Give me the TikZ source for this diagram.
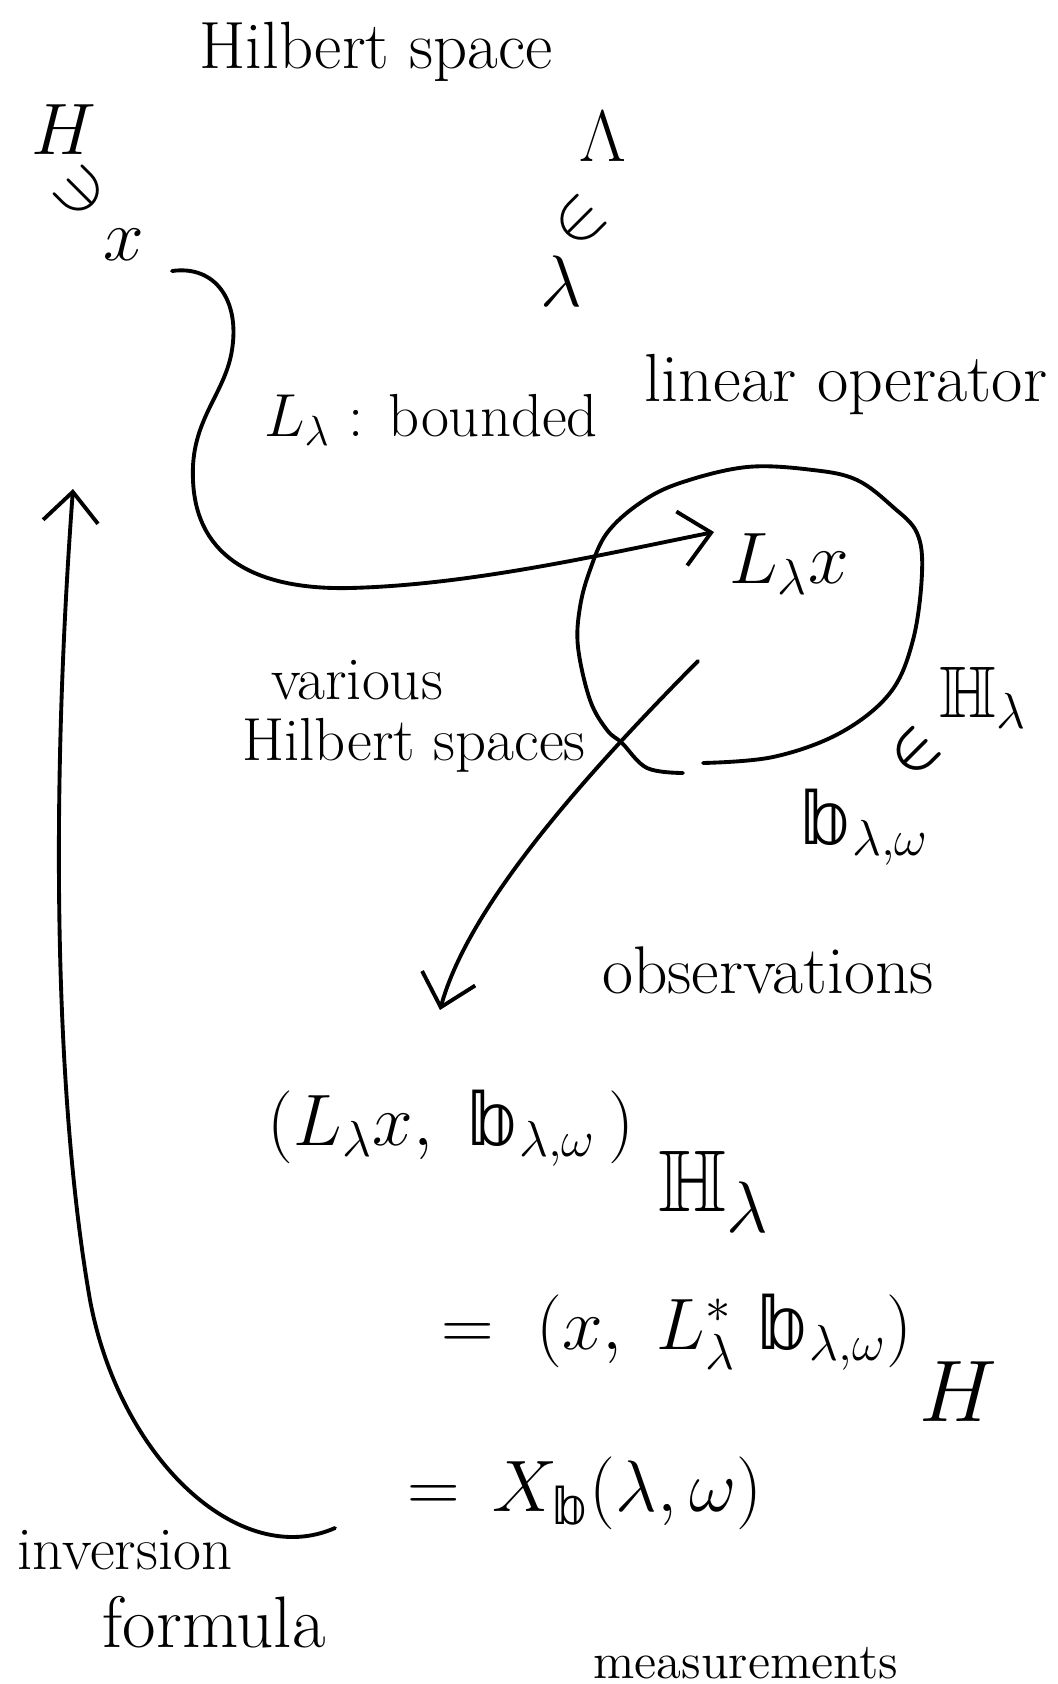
\documentclass[tikz,border=0pt]{standalone}
\usepackage{amsmath}
\usepackage{amssymb}
\usepackage{fontspec}
\newfontfamily\dejavu{DejaVu Sans}
\newcommand{\bbb}{\text{\dejavu 𝕓}}
\usetikzlibrary{arrows.meta}

\begin{document}
\begin{tikzpicture}[x=0.01cm, y=-0.01cm,
	hand/.style={line width=1.1pt, line cap=round, line join=round},
	handarrow/.style={hand, -{Straight Barb[length=3mm, width=5.5mm, line width=1.1pt]}},
	words/.style={font=\LARGE, inner sep=1pt},
	sym/.style={font=\huge, inner sep=1pt},
	elem/.style={font=\huge, inner sep=0pt},
	eqn/.style={font=\huge, inner sep=1pt}]
	\useasboundingbox (0,0) rectangle (1058,1684);
	\node[words, scale=1.1] (title) at (376,52){Hilbert space};
	\node[sym] (H) at (64,130){$H$};
	\node[elem, rotate=135] (Hni) at (80,192){$\in$};
	\node[sym] (x) at (124,245){$x$};
	\node[sym] (Lam) at (603,137){$\Lambda$};
	\node[elem, rotate=45] (lamin) at (580,221){$\in$};
	\node[sym] (lam) at (561,281){$\lambda$};
	\node[words] (bounded) at (431,420){$L_\lambda$ : bounded};
	\node[words, scale=1.12] (linop) at (846,385){linear operator};
	\node[sym] (Lx) at (789,564){$L_\lambda x$};
	\node[sym] (Hlam) at (983,698){$\mathbb{H}_\lambda$};
	\node[elem, font=\LARGE\boldmath, rotate=45] (bin) at (915,752){$\in$};
	\node[sym] (b) at (865,827){$\bbb_{\lambda,\omega}$};
	\node[words] (various) at (357,680){various};
	\node[words] (spaces) at (414,745){Hilbert spaces};
	\node[words, scale=1.11] (obs) at (768,970){observations};
	\node[eqn] (eqa) at (451,1128){$(L_\lambda x,\ \bbb_{\lambda,\omega}\,)$};
	\node[font=\Huge, inner sep=1pt] (eqaH) at (714,1192){$\mathbb{H}_\lambda$};
	\node[eqn] (eqb) at (677,1332){$=\ (x,\ L_\lambda^{*}\ \bbb_{\lambda,\omega})$};
	\node[font=\Huge, inner sep=1pt] (eqbH) at (958,1392){$H$};
	\node[eqn] (eqc) at (585,1493){$=\,X_{\bbb}(\lambda,\omega)$};
	\node[words] (inv) at (125,1550){inversion};
	\node[words, font=\huge] (form) at (214,1622){formula};
	\node[font=\Large, inner sep=1pt] (meas) at (746,1663){measurements};
	\coordinate (xout) at (172,271);
	\coordinate (Lxin) at (714,532);
	\coordinate (Lxout) at (698,661);
	\coordinate (eqin) at (440,1010);
	\coordinate (invout) at (335,1528);
	\coordinate (invin) at (73,489);
	\draw[handarrow] (xout) .. controls (215,265) and (240,300) .. (232,350) .. controls (225,395) and (190,420) .. (193,480) .. controls (196,560) and (260,590) .. (350,588) .. controls (470,585) and (600,555) .. (Lxin);
	\draw[hand] plot[smooth, tension=0.6] coordinates {(703,763) (773,757) (840,733) (890,693) (913,640) (922,573) (917,533) (893,507) (857,480) (813,470) (747,467) (680,483) (640,503) (607,533) (590,570) (580,607) (578,647) (590,700) (607,730) (622,743) (647,768) (683,773)};
	\draw[handarrow] (Lxout) .. controls (600,760) and (470,900) .. (eqin);
	\draw[handarrow] (invout) .. controls (240,1570) and (120,1460) .. (90,1300) .. controls (55,1100) and (50,800) .. (invin);
\end{tikzpicture}
\end{document}
